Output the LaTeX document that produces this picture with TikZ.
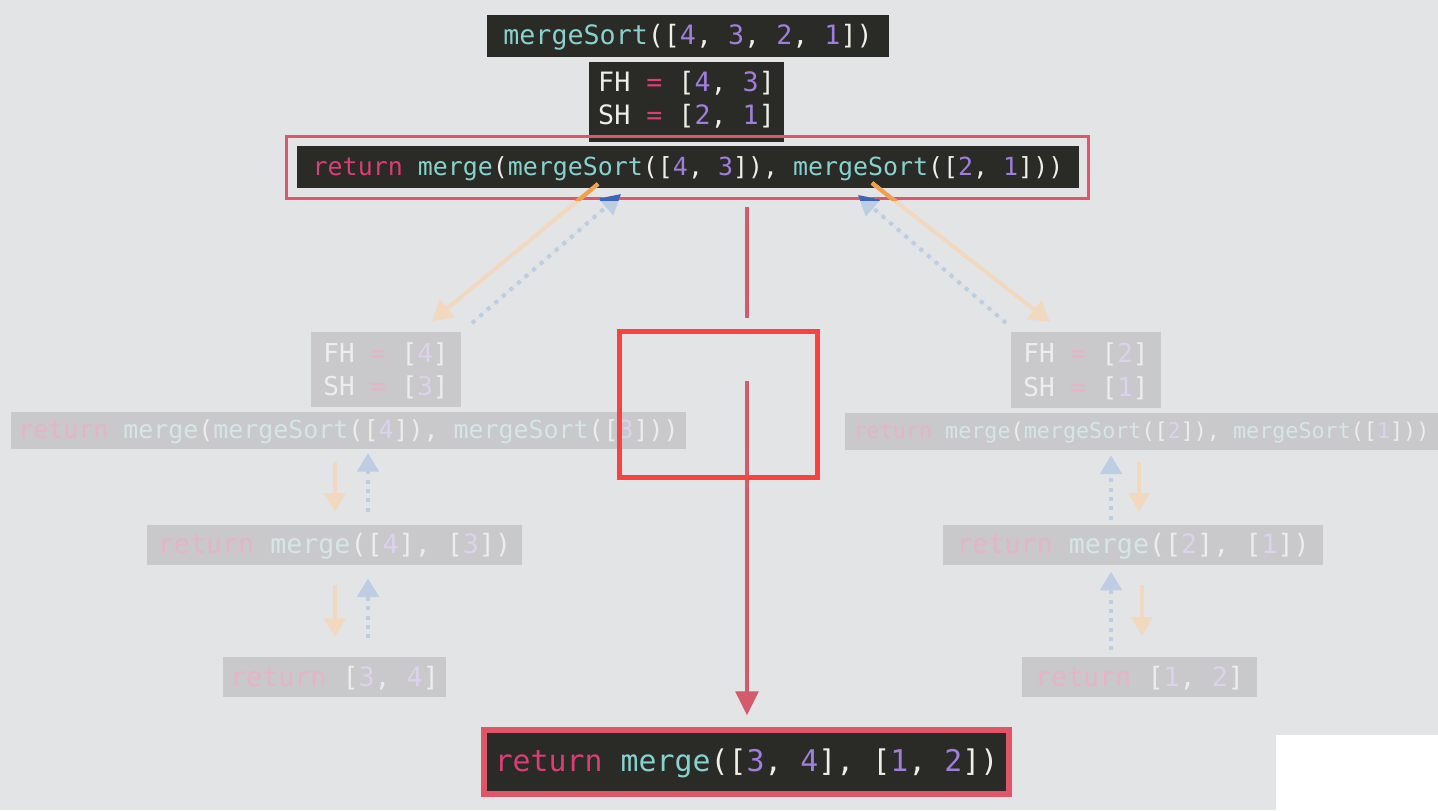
\documentclass[tikz,border=0pt]{standalone}
\usepackage{fontspec}
\setmonofont{DejaVu Sans Mono}
\usetikzlibrary{arrows.meta,fit}

% palette
\definecolor{bg}{HTML}{E3E4E6}
\definecolor{codebg}{HTML}{2A2A26}
\definecolor{dimbg}{HTML}{C9C9CB}
\definecolor{cret}{HTML}{DB3D76}
\definecolor{cfun}{HTML}{88D2CD}
\definecolor{cnum}{HTML}{A07FDC}
\definecolor{cpun}{HTML}{EFEFE8}
\definecolor{retdim}{HTML}{E6B4C4}
\definecolor{fundim}{HTML}{D6E6E6}
\definecolor{numdim}{HTML}{DCD2EE}
\definecolor{pundim}{HTML}{EDEDEE}
\definecolor{frame}{HTML}{DE5668}
\definecolor{flow}{HTML}{D35B6C}
\definecolor{focus}{HTML}{F94343}
\definecolor{calldim}{HTML}{F2D8BF}
\definecolor{callhot}{HTML}{EFA04A}
\definecolor{backdim}{HTML}{BDCDE3}
\definecolor{backhot}{HTML}{3F63B5}

\newcommand\kwret[1]{\textcolor{cret}{#1}}
\newcommand\kwfun[1]{\textcolor{cfun}{#1}}
\newcommand\kwnum[1]{\textcolor{cnum}{#1}}

\tikzset{
  panel/.style={inner sep=0pt, outer sep=0pt, fill=codebg},
  dimpanel/.style={panel, fill=dimbg},
  code/.style={inner sep=0pt, text=cpun, anchor=center, align=left,
    font=\frenchspacing\ttfamily\fontsize{20}{24.75}\selectfont},
  dimcode/.style={code, text=pundim,
    execute at begin node={\colorlet{cret}{retdim}\colorlet{cfun}{fundim}\colorlet{cnum}{numdim}}},
  callarrow/.style={line width=3pt, -{Triangle[length=15pt,width=17pt]}},
  backarrow/.style={line width=3pt, dash pattern=on 3pt off 4.5pt,
    -{Triangle[length=15pt,width=16pt]}},
  callsmall/.style={line width=2.6pt, draw=calldim, -{Triangle[length=14pt,width=16pt]}},
  backsmall/.style={line width=3pt, draw=backdim, dash pattern=on 3pt off 4pt,
    -{Triangle[length=14pt,width=16pt]}},
}

\begin{document}
\begin{tikzpicture}[x=0.75pt,y=-0.75pt]
\path[use as bounding box, fill=bg] (0,0) rectangle (1438,810);
\fill[white] (1276,735) rectangle (1438,810);

% top call and its halves
\node[panel, fit={(487,15) (889,57)}] (top) {};
\node[code] (topText) at ([yshift=-1pt]top.center)
  {\kwfun{mergeSort}([\kwnum{4}, \kwnum{3}, \kwnum{2}, \kwnum{1}])};
\node[panel, fit={(589,62) (784,142)}] (halves) {};
\node[code] (halvesText) at (686.5,100)
  {FH \kwret{=} [\kwnum{4}, \kwnum{3}]\\SH \kwret{=} [\kwnum{2}, \kwnum{1}]};

% the current return line
\node[panel, fit={(297,146) (1079,188)}] (main) {};
\node[code, font=\frenchspacing\ttfamily\fontsize{18.7}{22}\selectfont] (mainText) at ([yshift=-1pt]main.center)
  {\kwret{return} \kwfun{merge}(\kwfun{mergeSort}([\kwnum{4}, \kwnum{3}]), \kwfun{mergeSort}([\kwnum{2}, \kwnum{1}]))};
\node[draw=frame, line width=2.25pt, inner sep=0pt, fit={(286.5,136.5) (1088.5,198.5)}] (mainframe) {};

% left branch (dimmed)
\node[dimpanel, fit={(311,332) (461,407)}] (lhalves) {};
\node[dimcode, font=\frenchspacing\ttfamily\fontsize{19.5}{25}\selectfont] at ([yshift=-1pt]lhalves.center)
  {FH \kwret{=} [\kwnum{4}]\\SH \kwret{=} [\kwnum{3}]};
\node[dimpanel, fit={(11,412) (686,449)}] (lcall) {};
\node[dimcode, font=\frenchspacing\ttfamily\fontsize{18.7}{22}\selectfont] at ([yshift=-1pt]lcall.center)
  {\kwret{return} \kwfun{merge}(\kwfun{mergeSort}([\kwnum{4}]), \kwfun{mergeSort}([\kwnum{3}]))};
\node[dimpanel, fit={(147,525) (522,565)}] (lmerge) {};
\node[dimcode] at ([yshift=-1pt]lmerge.center)
  {\kwret{return} \kwfun{merge}([\kwnum{4}], [\kwnum{3}])};
\node[dimpanel, fit={(223,657) (446,697)}] (lret) {};
\node[dimcode] at ([yshift=-1pt]lret.center)
  {\kwret{return} [\kwnum{3}, \kwnum{4}]};

% right branch (dimmed)
\node[dimpanel, fit={(1011,332) (1161,408)}] (rhalves) {};
\node[dimcode, font=\frenchspacing\ttfamily\fontsize{19.5}{25}\selectfont] at ([yshift=-1pt]rhalves.center)
  {FH \kwret{=} [\kwnum{2}]\\SH \kwret{=} [\kwnum{1}]};
\node[dimpanel, fit={(845,413) (1438,450)}] (rcall) {};
\node[dimcode, font=\frenchspacing\ttfamily\fontsize{16.3}{20}\selectfont] at ([yshift=-1pt]rcall.center)
  {\kwret{return} \kwfun{merge}(\kwfun{mergeSort}([\kwnum{2}]), \kwfun{mergeSort}([\kwnum{1}]))};
\node[dimpanel, fit={(943,525) (1323,565)}] (rmerge) {};
\node[dimcode] at ([yshift=-1pt]rmerge.center)
  {\kwret{return} \kwfun{merge}([\kwnum{2}], [\kwnum{1}])};
\node[dimpanel, fit={(1022,657) (1257,697)}] (rret) {};
\node[dimcode] at ([yshift=-1pt]rret.center)
  {\kwret{return} [\kwnum{1}, \kwnum{2}]};

% result line
\node[panel, draw=frame, line width=4.5pt, fit={(484,730) (1009,794)}] (result) {};
\node[code, font=\frenchspacing\ttfamily\fontsize{22.4}{26}\selectfont] at ([yshift=-1pt]result.center)
  {\kwret{return} \kwfun{merge}([\kwnum{3}, \kwnum{4}], [\kwnum{1}, \kwnum{2}])};

% call / return arrows between the top line and the two branches
\coordinate (lcallA) at (598,184);
\coordinate (lcallB) at (432,321);
\coordinate (lbackA) at (472,323);
\coordinate (lbackB) at (621,194);
\coordinate (rcallA) at (872,183);
\coordinate (rcallB) at (1050,322);
\coordinate (rbackA) at (1006,323);
\coordinate (rbackB) at (858,195);

\draw[callarrow, draw=calldim, fill=calldim] (lcallA) -- (lcallB);
\draw[callarrow, draw=calldim, fill=calldim] (rcallA) -- (rcallB);
\draw[backarrow, draw=backdim, fill=backdim] (lbackA) -- (lbackB);
\draw[backarrow, draw=backdim, fill=backdim] (rbackA) -- (rbackB);
\begin{scope}
  \clip (0,0) rectangle (1438,200);
  \draw[callarrow, draw=callhot, fill=callhot] (lcallA) -- (lcallB);
  \draw[callarrow, draw=callhot, fill=callhot] (rcallA) -- (rcallB);
  \draw[backarrow, draw=backhot, fill=backhot] (lbackA) -- (lbackB);
  \draw[backarrow, draw=backhot, fill=backhot] (rbackA) -- (rbackB);
\end{scope}

% small arrows inside the branches
\coordinate (lDown) at (335,0);
\coordinate (lUp) at (368,0);
\coordinate (rUp) at (1111,0);
\coordinate (rDown1) at (1139,0);
\coordinate (rDown2) at (1142,0);
\draw[callsmall, shorten <=10pt, shorten >=10pt] (lcall.south -| lDown) -- (lmerge.north -| lDown);
\draw[backsmall, shorten <=10pt, shorten >=3pt] (lmerge.north -| lUp) -- (lcall.south -| lUp);
\draw[callsmall, shorten <=15pt, shorten >=15pt] (lmerge.south -| lDown) -- (lret.north -| lDown);
\draw[backsmall, shorten <=14pt, shorten >=10pt] (lret.north -| lUp) -- (lmerge.south -| lUp);

\draw[backsmall, shorten <=4pt, shorten >=4pt] (rmerge.north -| rUp) -- (rcall.south -| rUp);
\draw[callsmall, shorten <=9pt, shorten >=10pt] (rcall.south -| rDown1) -- (rmerge.north -| rDown1);
\draw[backsmall, shorten <=5pt, shorten >=5pt] (rret.north -| rUp) -- (rmerge.south -| rUp);
\draw[callsmall, shorten <=15pt, shorten >=16pt] (rmerge.south -| rDown2) -- (rret.north -| rDown2);

% the flow from the top line down to the result
\coordinate (gapTop) at (747,318);
\coordinate (gapBot) at (747,381);
\draw[flow, line width=3pt, shorten <=5pt] (mainframe.south -| gapTop) -- (gapTop);
\draw[flow, line width=3pt, shorten >=11pt, -{Triangle[length=18pt,width=17pt]}]
  (gapBot) -- (result.north -| gapBot);

% highlight box around the gap
\node[draw=focus, line width=3.75pt, inner sep=0pt, fit={(619.5,331.5) (817.5,477.5)}] (focusbox) {};
\end{tikzpicture}
\end{document}
